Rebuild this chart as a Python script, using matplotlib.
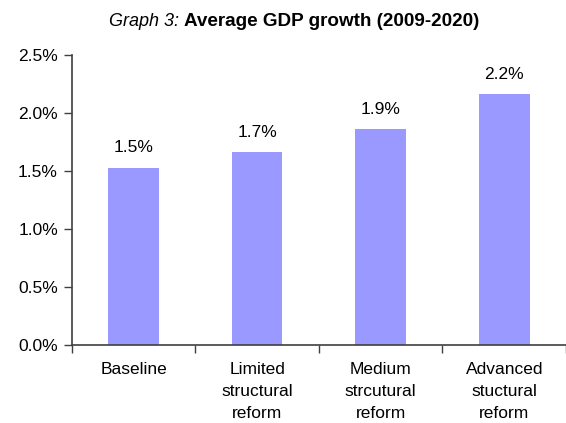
import matplotlib.pyplot as plt
from matplotlib.ticker import FuncFormatter

plt.rcParams['font.family'] = ['Liberation Sans', 'DejaVu Sans']

categories = ['Baseline', 'Limited\nstructural\nreform', 'Medium\nstrcutural\nreform',
              'Advanced\nstuctural\nreform']
growth = [0.0153, 0.0166, 0.0186, 0.0216]
labels = ['1.5%', '1.7%', '1.9%', '2.2%']

fs = 12.5
fig = plt.figure(figsize=(5.66, 4.23), dpi=100)
ax = fig.add_axes([0.127, 0.184, 0.873, 0.686])

x = list(range(len(categories)))
bars = ax.bar(x, growth, width=0.41, color='#9999FF', zorder=2)
for xi, v, lab in zip(x, growth, labels):
    ax.annotate(lab, (xi, v), xytext=(0, 9), textcoords='offset points',
                ha='center', va='bottom', fontsize=fs)

ax.set_ylim(0, 0.025)
ax.set_yticks([0, 0.005, 0.01, 0.015, 0.02, 0.025])
ax.yaxis.set_major_formatter(FuncFormatter(lambda v, p: f'{v*100:.1f}%'))
ax.tick_params(axis='y', labelsize=fs, length=6, width=1, color='#404040', pad=4)

ax.set_xlim(-0.5, 3.5)
ax.set_xticks([-0.5, 0.5, 1.5, 2.5, 3.5])
ax.set_xticklabels([])
ax.set_xticks(x, minor=True)
ax.set_xticklabels(categories, minor=True, fontsize=fs, linespacing=1.58)
ax.tick_params(axis='x', which='major', length=6, width=1, color='#404040')
ax.tick_params(axis='x', which='minor', length=0, pad=12)

for s in ['top', 'right']:
    ax.spines[s].set_visible(False)
for s in ['left', 'bottom']:
    ax.spines[s].set_color('#404040')
    ax.spines[s].set_linewidth(1.2)

fig.text(0.316, 0.948, 'Graph 3:', style='italic', fontsize=13, ha='right', va='center')
fig.text(0.325, 0.948, 'Average GDP growth (2009-2020)', weight='bold', fontsize=13.6,
         ha='left', va='center')

fig.savefig('out.png', dpi=100)
